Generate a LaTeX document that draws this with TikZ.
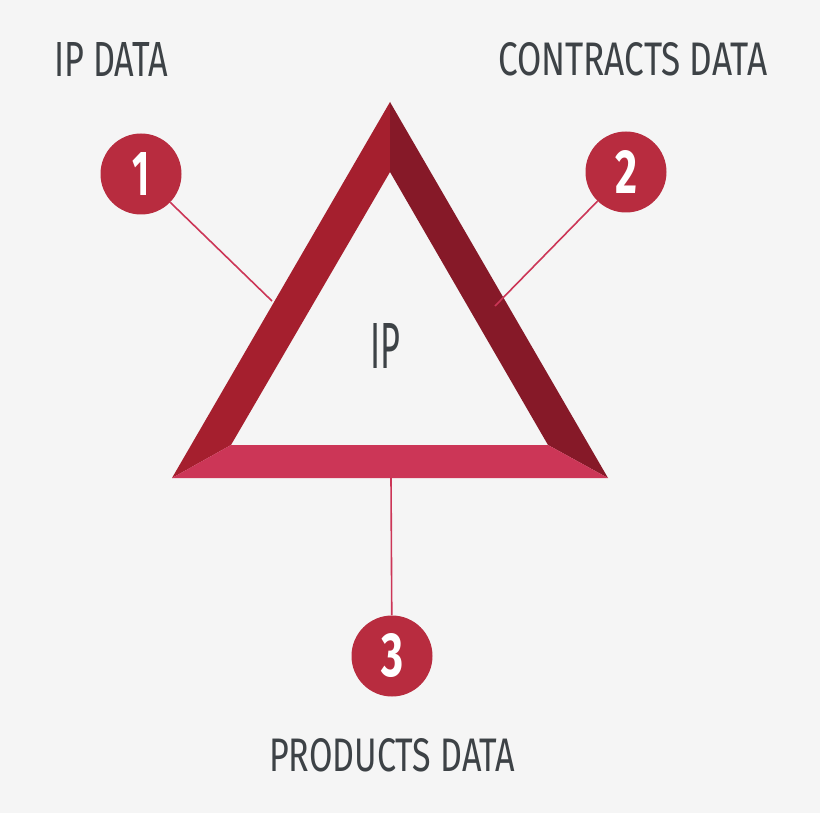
\documentclass[tikz,border=0pt]{standalone}
\usepackage{fontspec}
\setmainfont{Fira Sans}
\usepackage{graphicx}
\definecolor{bg}{HTML}{F5F5F5}
\definecolor{leftband}{HTML}{A51F2E}
\definecolor{rightband}{HTML}{861928}
\definecolor{bottomband}{HTML}{CC3657}
\definecolor{badge}{HTML}{B82C3F}
\definecolor{linkc}{HTML}{CC3657}
\definecolor{txt}{HTML}{3D4246}
\tikzset{
  badge/.style={circle, fill=badge, minimum size=81pt, inner sep=0pt, text=white},
  link/.style={draw=linkc, line width=1.6pt},
  label/.style={inner sep=0pt, anchor=north west, text=txt},
}
\newcommand{\fitbox}[3]{\resizebox{#1}{#2}{\fontsize{40pt}{40pt}\selectfont #3}}
\newcommand{\numbox}[2]{\resizebox{#1}{43pt}{\fontsize{40pt}{40pt}\selectfont\bfseries #2}}
\begin{document}
\begin{tikzpicture}[x=1pt,y=-1pt]
\useasboundingbox (0,0) rectangle (820,813);
\fill[bg] (0,0) rectangle (820,813);
% triangle corners
\coordinate (A) at (390,102);
\coordinate (B) at (172,478);
\coordinate (C) at (608,478);
\coordinate (a) at (390,172);
\coordinate (b) at (231,445);
\coordinate (c) at (548,445);
\fill[leftband] (A) -- (a) -- (b) -- (B) -- cycle;
\fill[rightband] (A) -- (C) -- (c) -- (a) -- cycle;
\fill[bottomband] (B) -- (b) -- (c) -- (C) -- cycle;
% badges
\node[badge] (n1) at (141,174) {\numbox{17pt}{1}};
\node[badge] (n2) at (626,172) {\numbox{22pt}{2}};
\node[badge] (n3) at (392,656) {\numbox{22pt}{3}};
\coordinate (e1) at (272,301);
\coordinate (e2) at (495,306);
\coordinate (e3) at (391,478);
\draw[link] (n1) -- (e1);
\draw[link] (n2) -- (e2);
\draw[link] (e3) -- (n3);
% labels
\node[label] (t1) at (54,42) {\fitbox{114pt}{34pt}{IP DATA}};
\node[label] (t2) at (498,42) {\fitbox{269pt}{33pt}{CONTRACTS DATA}};
\node[label] (t3) at (269,738) {\fitbox{246pt}{33pt}{PRODUCTS DATA}};
\node[label] (ip) at (370,323) {\fitbox{30pt}{45pt}{IP}};
\end{tikzpicture}
\end{document}
